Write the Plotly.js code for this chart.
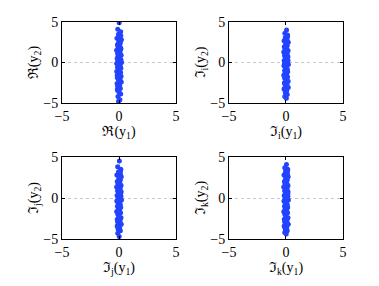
<!DOCTYPE html>
<html>
<head>
<meta charset="utf-8">
<script src="https://cdn.plot.ly/plotly-3.0.1.min.js"></script>
<style>body{margin:0;background:#fff}#chart{width:379px;height:286px}</style>
</head>
<body>
<div id="chart"></div>
<script>
// samples (x narrow around 0, y spread)
const rX = [0.02,-0.11,0.15,-0.05,0.08,-0.18,0.21,-0.02,0.12,-0.14,0.05,-0.08,0.17,-0.21,0.01,0.09,-0.12,0.19,-0.04,0.06,-0.16,0.13,-0.09,0.03,0.22,-0.19,0.07,-0.01,0.11,-0.13,0.16,-0.06,0.04,-0.2,0.14,-0.1,0.0,0.18,-0.15,0.1,-0.03,0.2,-0.17,0.06,-0.07,0.12,-0.12,0.02,0.15,-0.09,0.08,-0.04,0.01,-0.02,0.05,0.03,-0.06,0.09,-0.1,0.07,0.14,-0.15,0.18,-0.17,0.1,-0.12,0.16,-0.14,0.12,-0.1];
const rY = [4.9,4.1,3.8,3.5,3.2,3.0,2.8,2.6,2.4,2.2,2.0,1.9,1.7,1.5,1.4,1.2,1.1,0.9,0.8,0.6,0.5,0.35,0.2,0.1,0.0,-0.1,-0.2,-0.3,-0.45,-0.6,-0.7,-0.85,-1.0,-1.1,-1.25,-1.4,-1.55,-1.7,-1.85,-2.0,-2.2,-2.4,-2.6,-2.8,-3.0,-3.2,-3.45,-3.7,-3.9,-4.2,-4.6,-4.8,0.4,-0.5,1.0,-1.3,2.3,-2.3,0.7,-0.8,1.6,-1.6,0.3,-0.2,2.7,-2.9,3.3,-3.3,1.85,-1.9];
const iX = [0.05,-0.1,0.14,-0.06,0.09,-0.17,0.2,-0.03,0.11,-0.15,0.04,-0.09,0.18,-0.2,0.02,0.1,-0.13,0.17,-0.05,0.07,-0.16,0.12,-0.08,0.03,0.21,-0.18,0.06,-0.01,0.13,-0.12,0.15,-0.07,0.05,-0.19,0.14,-0.11,0.0,0.19,-0.14,0.09,-0.04,0.2,-0.16,0.07,-0.06,0.11,-0.11,0.03,0.16,-0.08,0.08,-0.03,-0.02,0.04,0.1,-0.05,0.15,-0.16,0.17,-0.14,0.12,-0.12,0.14,-0.15];
const iY = [4.0,3.6,3.4,3.1,2.9,2.7,2.5,2.3,2.1,1.95,1.8,1.6,1.45,1.3,1.15,1.0,0.85,0.7,0.55,0.4,0.25,0.1,0.0,-0.1,-0.25,-0.4,-0.55,-0.7,-0.85,-1.0,-1.15,-1.3,-1.45,-1.6,-1.8,-1.95,-2.1,-2.3,-2.5,-2.7,-2.9,-3.1,-3.3,-3.5,-3.7,-3.95,-4.2,-4.4,0.3,-0.3,1.1,-1.2,2.0,-2.0,0.6,-0.6,1.5,-1.5,0.2,-0.2,2.6,-2.6,3.2,-3.2];
const jX = [0.03,-0.12,0.16,-0.04,0.08,-0.19,0.2,-0.02,0.12,-0.15,0.05,-0.09,0.17,-0.21,0.01,0.1,-0.13,0.19,-0.05,0.06,-0.17,0.13,-0.08,0.02,0.22,-0.18,0.07,-0.01,0.12,-0.14,0.15,-0.06,0.04,-0.2,0.14,-0.1,0.0,0.18,-0.15,0.1,-0.03,0.2,-0.16,0.06,-0.07,0.12,-0.11,0.02,0.15,-0.09,0.08,-0.04,0.03,-0.02,0.07,-0.05,0.16,-0.15,0.17,-0.16,0.12,-0.13,0.13,-0.12];
const jY = [4.5,3.8,3.5,3.2,3.0,2.8,2.6,2.4,2.2,2.0,1.85,1.7,1.5,1.35,1.2,1.05,0.9,0.75,0.6,0.45,0.3,0.15,0.0,-0.1,-0.25,-0.4,-0.55,-0.7,-0.85,-1.0,-1.15,-1.3,-1.5,-1.65,-1.8,-2.0,-2.2,-2.4,-2.6,-2.8,-3.0,-3.2,-3.4,-3.6,-3.8,-4.0,-4.3,-4.7,0.5,-0.5,1.3,-1.4,2.5,-2.5,0.8,-0.9,1.6,-1.7,0.2,-0.3,2.9,-2.9,3.3,-3.5];
const kX = [0.04,-0.11,0.15,-0.05,0.09,-0.18,0.19,-0.03,0.11,-0.14,0.05,-0.09,0.17,-0.2,0.02,0.1,-0.12,0.18,-0.05,0.07,-0.16,0.13,-0.08,0.03,0.21,-0.17,0.06,-0.01,0.12,-0.13,0.15,-0.07,0.05,-0.19,0.14,-0.1,0.0,0.18,-0.15,0.09,-0.04,0.2,-0.16,0.07,-0.06,0.11,-0.11,0.02,0.16,-0.08,0.08,-0.03,0.02,-0.04,0.06,-0.06,0.15,-0.16,0.17,-0.15,0.12,-0.12,0.14,-0.13];
const kY = [4.1,3.7,3.5,3.2,3.0,2.8,2.6,2.4,2.2,2.0,1.85,1.7,1.5,1.35,1.2,1.05,0.9,0.75,0.6,0.45,0.3,0.15,0.0,-0.1,-0.25,-0.4,-0.55,-0.7,-0.85,-1.0,-1.15,-1.3,-1.5,-1.65,-1.8,-2.0,-2.2,-2.4,-2.6,-2.8,-3.0,-3.2,-3.4,-3.6,-3.8,-4.0,-4.2,-4.4,0.5,-0.5,1.3,-1.4,2.5,-2.5,0.8,-0.9,1.6,-1.7,0.2,-0.3,2.9,-2.9,3.3,-3.5];

const tickVals = [-5, 0, 5];
const xTitles = ['ℜ(y<sub>1</sub>)', 'ℑ<sub>i</sub>(y<sub>1</sub>)', 'ℑ<sub>j</sub>(y<sub>1</sub>)', 'ℑ<sub>k</sub>(y<sub>1</sub>)'];
const yTitles = ['ℜ(y<sub>2</sub>)', 'ℑ<sub>i</sub>(y<sub>2</sub>)', 'ℑ<sub>j</sub>(y<sub>2</sub>)', 'ℑ<sub>k</sub>(y<sub>2</sub>)'];

const series = [[rX, rY], [iX, iY], [jX, jY], [kX, kY]];
const data = series.map(function(s, i) {
    return {
        x: s[0], y: s[1],
        type: 'scatter', mode: 'markers',
        marker: {color: '#2244ff', size: 5, line: {width: 0}},
        xaxis: 'x' + (i + 1), yaxis: 'y' + (i + 1),
        hoverinfo: 'none'
    };
});

const font = {family: 'Liberation Serif, Times New Roman, serif', size: 14, color: '#000'};
const xDomains = [[0.1636, 0.4644], [0.6042, 0.905], [0.1636, 0.4644], [0.6042, 0.905]];
const yDomains = [[0.6399, 0.923], [0.6399, 0.923], [0.1643, 0.451], [0.1643, 0.451]];

const layout = {
    width: 379, height: 286,
    margin: {l: 0, r: 0, t: 0, b: 0},
    paper_bgcolor: '#fff', plot_bgcolor: '#fff',
    showlegend: false,
    font: font
};

for (let i = 0; i < 4; i++) {
    const n = i === 0 ? '' : String(i + 1);
    const common = {
        range: [-5, 5], tickvals: tickVals, ticktext: ['\u22125', '0', '5'],
        ticks: 'inside', ticklen: 3, tickcolor: '#000',
        showline: true, linecolor: '#000', linewidth: 1, mirror: 'ticks',
        showgrid: true, gridcolor: '#c8c8c8', griddash: 'dot', gridwidth: 1,
        zeroline: false, tickfont: font, fixedrange: true
    };
    layout['xaxis' + n] = Object.assign({}, common, {
        domain: xDomains[i], anchor: 'y' + (i + 1),
        title: {text: xTitles[i], font: font, standoff: 1}
    });
    layout['yaxis' + n] = Object.assign({}, common, {
        domain: yDomains[i], anchor: 'x' + (i + 1),
        title: {text: yTitles[i], font: font, standoff: 1}
    });
}

Plotly.newPlot('chart', data, layout, {displayModeBar: false, staticPlot: true});
</script>
</body>
</html>
